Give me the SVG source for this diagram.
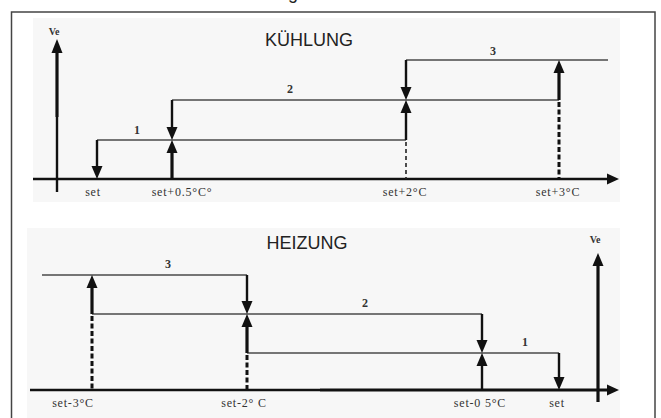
<svg xmlns="http://www.w3.org/2000/svg" width="661" height="418" viewBox="0 0 661 418">
<style>
.frame{fill:#fff;stroke:#444;stroke-width:1.5}
.bg{fill:#f7f7f7}
.thin{stroke:#4a4a4a;stroke-width:1.6;fill:none}
.arr{stroke:#111;stroke-width:2.4;fill:none}
.thk{stroke:#111;stroke-width:3.2;fill:none}
.dash{stroke:#222;stroke-width:1.6;stroke-dasharray:4 3;fill:none}
.dashk{stroke:#111;stroke-width:3;stroke-dasharray:5 2.5;fill:none}
.head{fill:#111}
.title{font-family:"Liberation Sans",Arial,sans-serif;font-size:18px;fill:#222;text-anchor:middle}
.lab{font-family:"Liberation Serif","Times New Roman",serif;font-size:12px;fill:#333;text-anchor:middle;letter-spacing:0.8px}
.num{font-family:"Liberation Serif","Times New Roman",serif;font-size:12px;font-weight:bold;fill:#333;text-anchor:middle}
.ve{font-family:"Liberation Serif","Times New Roman",serif;font-size:10px;font-weight:bold;fill:#333;text-anchor:middle}
</style>
<rect class="frame" x="11.5" y="12" width="643.5" height="420"/>
<text class="title" x="293" y="-1">g</text>
<rect class="bg" x="33" y="18" width="587" height="184"/>
<rect class="bg" x="27" y="228" width="593" height="190"/>

<g id="cooling">
<text class="title" x="309" y="46">KÜHLUNG</text>
<text class="ve" x="54" y="35">Ve</text>
<g id="cool-axes">
<path class="thk" d="M57 52V117"/>
<path class="arr" d="M57 117V192"/>
<polygon class="head" points="57,39 51.5,53 62.5,53"/>
<path class="arr" d="M33 179H608"/>
<polygon class="head" points="619,179 607,173.5 607,184.5"/>
</g>
<g id="cool-connectors">
<path class="thin" d="M97 140H406"/>
<path class="thin" d="M172 100H559"/>
<path class="thin" d="M406 60H608"/>
<path class="arr" d="M97 140V167"/>
<polygon class="head" points="97,179 91.5,166 102.5,166"/>
<path class="thk" d="M172 179V152"/>
<polygon class="head" points="172,140 166.5,153 177.5,153"/>
<path class="arr" d="M172 100V127"/>
<polygon class="head" points="172,140 166.5,127 177.5,127"/>
<path class="arr" d="M406 60V87"/>
<polygon class="head" points="406,100 400.5,87 411.5,87"/>
<path class="arr" d="M406 140V113"/>
<polygon class="head" points="406,100 400.5,113 411.5,113"/>
<path class="dash" d="M406 142V179"/>
<path class="thk" d="M559 100V72"/>
<polygon class="head" points="559,60 553.5,73 564.5,73"/>
<path class="dashk" d="M559 102V179"/>
</g>
<text class="num" x="137" y="134">1</text>
<text class="num" x="290" y="93">2</text>
<text class="num" x="493" y="55">3</text>
<text class="lab" x="93" y="196">set</text>
<text class="lab" x="182" y="196">set+0.5°C°</text>
<text class="lab" x="405" y="196">set+2°C</text>
<text class="lab" x="558" y="196">set+3°C</text>
</g>

<g id="heating">
<text class="title" x="307" y="249">HEIZUNG</text>
<text class="ve" x="595" y="243">Ve</text>
<g id="heat-axes">
<path class="thk" d="M598 265V402"/>
<polygon class="head" points="598,253 592.5,266 603.5,266"/>
<path class="arr" d="M30 390H320"/>
<path class="thk" d="M320 390H608"/>
<polygon class="head" points="619,390 607,384.5 607,395.5"/>
</g>
<g id="heat-connectors">
<path class="thin" d="M42 275H247"/>
<path class="thin" d="M92 314H482"/>
<path class="thin" d="M247 353H559"/>
<path class="thk" d="M92 314V287"/>
<polygon class="head" points="92,275 86.5,288 97.5,288"/>
<path class="dashk" d="M92 316V390"/>
<path class="arr" d="M247 275V301"/>
<polygon class="head" points="247,314 241.5,301 252.5,301"/>
<path class="thk" d="M247 353V326"/>
<polygon class="head" points="247,314 241.5,327 252.5,327"/>
<path class="dashk" d="M247 355V390"/>
<path class="arr" d="M482 314V340"/>
<polygon class="head" points="482,353 476.5,340 487.5,340"/>
<path class="arr" d="M482 390V365"/>
<polygon class="head" points="482,353 476.5,366 487.5,366"/>
<path class="arr" d="M559 353V377"/>
<polygon class="head" points="559,390 553.5,377 564.5,377"/>
</g>
<text class="num" x="168" y="268">3</text>
<text class="num" x="365" y="307">2</text>
<text class="num" x="525" y="346">1</text>
<text class="lab" x="73" y="407">set-3°C</text>
<text class="lab" x="244" y="407">set-2° C</text>
<text class="lab" x="480" y="407">set-0 5°C</text>
<text class="lab" x="557" y="407">set</text>
</g>
</svg>
